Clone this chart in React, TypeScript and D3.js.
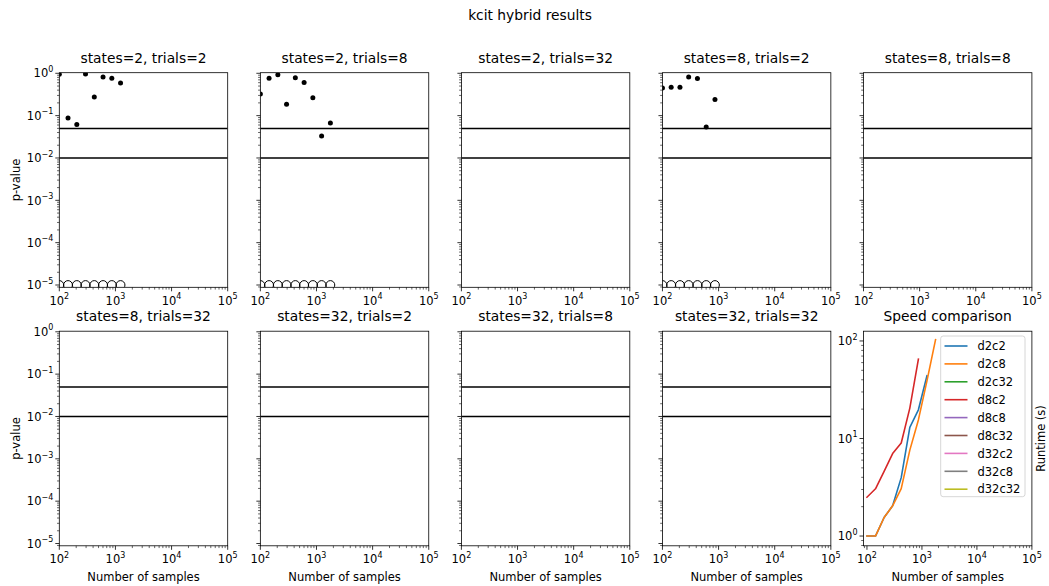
import React from "react";
import * as d3 from "d3";

const W = 1049;
const H = 586;
const FONT = "DejaVu Sans, Liberation Sans, sans-serif";

// ---------- data ----------
const SUPTITLE = "kcit hybrid results";
const SAMPLES = [100, 143, 205, 293, 420, 602, 862, 1234, 1768];
const PANEL_TITLES = [
  "states=2, trials=2",
  "states=2, trials=8",
  "states=2, trials=32",
  "states=8, trials=2",
  "states=8, trials=8",
  "states=8, trials=32",
  "states=32, trials=2",
  "states=32, trials=8",
  "states=32, trials=32",
];
const SPEED_TITLE = "Speed comparison";
const SIG_LEVELS = [0.05, 0.01];
const P_FLOOR = 1e-5;

// p-values of the filled markers
const P_S2T2 = [0.95, 0.088, 0.062, 0.96, 0.276, 0.82, 0.76, 0.59];
const P_S2T8 = [0.325, 0.76, 0.93, 0.185, 0.79, 0.61, 0.266, 0.033, 0.067];
const P_S8T2 = [0.45, 0.467, 0.467, 0.82, 0.75, 0.054, 0.239];
// p-values of the hollow markers (zero, shown at the floor)
const Q_S2T2 = [0, 0, 0, 0, 0, 0, 0, 0];
const Q_S2T8 = [0, 0, 0, 0, 0, 0, 0, 0, 0];
const Q_S8T2 = [0, 0, 0, 0, 0, 0, 0];

const P_FILLED = [P_S2T2, P_S2T8, [], P_S8T2, [], [], [], [], []];
const P_HOLLOW = [Q_S2T2, Q_S2T8, [], Q_S8T2, [], [], [], [], []];

// runtimes (s)
const D2C2 = [1.0, 1.0, 1.55, 2.04, 3.97, 13.0, 19.7, 44];
const D2C8 = [1.0, 1.0, 1.55, 2.04, 3.06, 7.6, 15.5, 39, 103];
const D8C2 = [2.5, 3.05, 4.6, 7.0, 9.0, 20.5, 65];
const SPEED_NAMES = ["d2c2", "d2c8", "d2c32", "d8c2", "d8c8", "d8c32", "d32c2", "d32c8", "d32c32"];
const SPEED_VALUES: number[][] = [D2C2, D2C8, [], D8C2, [], [], [], [], []];
const SPEED_COLORS = [
  "#1f77b4", "#ff7f0e", "#2ca02c", "#d62728", "#9467bd",
  "#8c564b", "#e377c2", "#7f7f7f", "#bcbd22",
];

// ---------- layout ----------
const COL_X0 = 59.3;
const COL_STEP = 201.05;
const PW = 168.4;
const ROW_Y = [72.7, 331.2];
const PH = 214.6;
const TICK_FS = 11.5;
const SUP_FS = 8;
const TITLE_FS = 13.8;
const MAJ_LEN = 4;
const MIN_LEN = 2.3;

function Pow10({ x, y, exp, anchor }: { x: number; y: number; exp: number; anchor: string }) {
  const e = exp < 0 ? "\u2212" + Math.abs(exp) : String(exp);
  return (
    <text x={x} y={y} textAnchor={anchor} fontSize={TICK_FS} fontFamily={FONT} fill="#000">
      10<tspan dy={-5.5} fontSize={SUP_FS}>{e}</tspan>
    </text>
  );
}

function isMajor(v: number) {
  const l = Math.log10(v);
  return Math.abs(l - Math.round(l)) < 1e-9;
}

type PanelProps = {
  idx: number;
  x0: number;
  y0: number;
  title: string;
  xScale: d3.ScaleLogarithmic<number, number>;
  yScale: d3.ScaleLogarithmic<number, number>;
  yLabels: boolean;
  children?: React.ReactNode;
};

function Axes({ idx, x0, y0, title, xScale, yScale, yLabels, children }: PanelProps) {
  const xt = xScale.ticks();
  const yt = yScale.ticks();
  const bottom = y0 + PH;
  const clipId = `clip${idx}`;
  return (
    <g>
      <defs>
        <clipPath id={clipId}>
          <rect x={x0} y={y0} width={PW} height={PH} />
        </clipPath>
      </defs>
      <g clipPath={`url(#${clipId})`}>{children}</g>
      <rect x={x0} y={y0} width={PW} height={PH} fill="none" stroke="#000" strokeWidth={0.8} />
      {xt.map((v, i) => {
        const x = xScale(v);
        const maj = isMajor(v);
        return (
          <g key={"x" + i}>
            <line x1={x} x2={x} y1={bottom} y2={bottom + (maj ? MAJ_LEN : MIN_LEN)} stroke="#000" strokeWidth={maj ? 0.8 : 0.6} />
            {maj && <Pow10 x={x} y={bottom + 17.5} exp={Math.round(Math.log10(v))} anchor="middle" />}
          </g>
        );
      })}
      {yt.map((v, i) => {
        const y = yScale(v);
        const maj = isMajor(v);
        return (
          <g key={"y" + i}>
            <line x1={x0} x2={x0 - (maj ? MAJ_LEN : MIN_LEN)} y1={y} y2={y} stroke="#000" strokeWidth={maj ? 0.8 : 0.6} />
            {maj && yLabels && <Pow10 x={x0 - 6} y={y + 4.2} exp={Math.round(Math.log10(v))} anchor="end" />}
          </g>
        );
      })}
      <text x={x0 + PW / 2} y={y0 - 9.8} textAnchor="middle" fontSize={TITLE_FS} fontFamily={FONT}>
        {title}
      </text>
    </g>
  );
}

export default function App() {
  const panels: React.ReactNode[] = [];

  PANEL_TITLES.forEach((title, i) => {
    const row = Math.floor(i / 5);
    const col = i % 5;
    const x0 = COL_X0 + col * COL_STEP;
    const y0 = ROW_Y[row];
    const xScale = d3.scaleLog().domain([1e2, 1e5]).range([x0, x0 + PW]);
    const yScale = d3.scaleLog().domain([Math.pow(10, -5.054), Math.pow(10, 0.014)]).range([y0 + PH, y0]);
    const filled = P_FILLED[i];
    const hollow = P_HOLLOW[i];
    panels.push(
      <Axes key={i} idx={i} x0={x0} y0={y0} title={title} xScale={xScale} yScale={yScale} yLabels={col === 0}>
        {SIG_LEVELS.map((s, k) => (
          <line key={"h" + k} x1={x0} x2={x0 + PW} y1={yScale(s)} y2={yScale(s)} stroke="#000" strokeWidth={1.5} />
        ))}
        {hollow.map((v, k) => (
          <circle key={"o" + k} cx={xScale(SAMPLES[k])} cy={yScale(Math.max(v, P_FLOOR))} r={4.4} fill="none" stroke="#000" strokeWidth={1} />
        ))}
        {filled.map((v, k) => (
          <circle key={"f" + k} cx={xScale(SAMPLES[k])} cy={yScale(Math.max(v, P_FLOOR))} r={2.5} fill="#000" />
        ))}
      </Axes>
    );
  });

  // speed comparison panel
  const sx0 = COL_X0 + 4 * COL_STEP;
  const sy0 = ROW_Y[1];
  const sxScale = d3.scaleLog().domain([Math.pow(10, 1.937), 1e5]).range([sx0, sx0 + PW]);
  const syScale = d3.scaleLog().domain([Math.pow(10, -0.1), Math.pow(10, 2.1)]).range([sy0 + PH, sy0]);
  const lineGen = d3
    .line<number>()
    .x((_, k) => sxScale(SAMPLES[k]))
    .y((v) => syScale(v));

  const legX = 940.7;
  const legY = 336;
  const legW = 84.3;
  const legH = 160.7;
  const entryY0 = 346;
  const entryStep = 17.9;

  panels.push(
    <Axes key="speed" idx={99} x0={sx0} y0={sy0} title={SPEED_TITLE} xScale={sxScale} yScale={syScale} yLabels={true}>
      {SPEED_VALUES.map((vals, k) =>
        vals.length ? (
          <path key={k} d={lineGen(vals) || ""} fill="none" stroke={SPEED_COLORS[k]} strokeWidth={1.6} strokeLinejoin="round" strokeLinecap="square" />
        ) : null
      )}
    </Axes>
  );

  const legend = (
    <g>
      <rect x={legX} y={legY} width={legW} height={legH} rx={2.5} fill="#fff" fillOpacity={0.8} stroke="#cccccc" strokeWidth={0.8} />
      {SPEED_NAMES.map((n, k) => {
        const y = entryY0 + k * entryStep;
        return (
          <g key={n}>
            <line x1={944.5} x2={967.5} y1={y} y2={y} stroke={SPEED_COLORS[k]} strokeWidth={1.6} />
            <text x={977.5} y={y + 4.2} fontSize={TICK_FS} fontFamily={FONT}>
              {n}
            </text>
          </g>
        );
      })}
    </g>
  );

  const colCenters = [0, 1, 2, 3, 4].map((c) => COL_X0 + c * COL_STEP + PW / 2);

  return (
    <svg width={W} height={H} style={{ position: "absolute", left: 0, top: 0, background: "#fff" }} xmlns="http://www.w3.org/2000/svg">
      <rect x={0} y={0} width={W} height={H} fill="#fff" />
      <text x={530} y={20} textAnchor="middle" fontSize={TITLE_FS} fontFamily={FONT}>
        {SUPTITLE}
      </text>
      {panels}
      {legend}
      {ROW_Y.map((y0, r) => (
        <text key={"pl" + r} transform={`translate(20,${y0 + PH / 2}) rotate(-90)`} textAnchor="middle" fontSize={TICK_FS} fontFamily={FONT}>
          p-value
        </text>
      ))}
      {colCenters.map((cx, c) => (
        <text key={"xl" + c} x={cx} y={581} textAnchor="middle" fontSize={TICK_FS} fontFamily={FONT}>
          Number of samples
        </text>
      ))}
      <text transform={`translate(1045,${sy0 + PH / 2}) rotate(-90)`} textAnchor="middle" fontSize={TICK_FS} fontFamily={FONT}>
        Runtime (s)
      </text>
    </svg>
  );
}
